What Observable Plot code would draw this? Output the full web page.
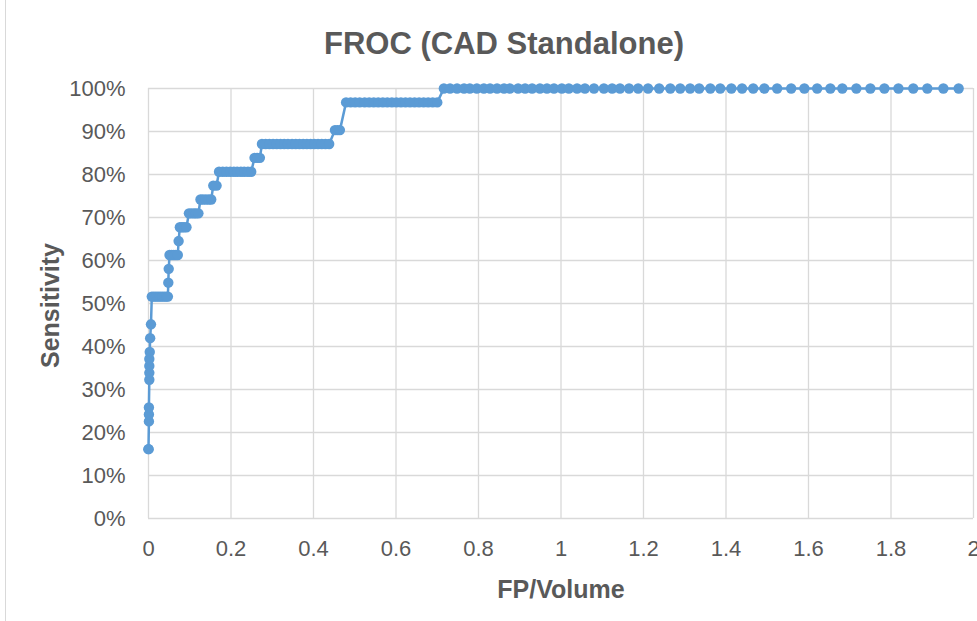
<!DOCTYPE html>
<html>
<head>
<meta charset="utf-8">
<script src="https://cdn.jsdelivr.net/npm/d3@7"></script>
<script src="https://cdn.jsdelivr.net/npm/@observablehq/plot@0.6"></script>
<style>
  html, body { margin: 0; padding: 0; background: #ffffff; }
  #chart { position: relative; width: 977px; height: 621px; overflow: hidden; }
  #chart svg { display: block; }
  #edge { position: absolute; left: 5px; top: 0; width: 1px; height: 621px; background: #d9d9d9; }
</style>
</head>
<body>
<div id="chart"><div id="edge"></div></div>
<script>
// ---- data (FROC curve, CAD standalone) ----
const chartTitle = "FROC (CAD Standalone)";
const xTitle = "FP/Volume";
const yTitle = "Sensitivity";

const xTicks = [0, 0.2, 0.4, 0.6, 0.8, 1, 1.2, 1.4, 1.6, 1.8, 2];
const yTicks = [0, 0.1, 0.2, 0.3, 0.4, 0.5, 0.6, 0.7, 0.8, 0.9, 1];

// false positives per volume (x) at each operating point
const fpPerVolume = [
  0.000, 0.000,
  0.001, 0.001, 0.001,
  0.002, 0.002, 0.002, 0.002, 0.003,
  0.004,
  0.006,
  0.008, 0.013, 0.018, 0.023, 0.028, 0.033, 0.038, 0.043, 0.047,
  0.048,
  0.049,
  0.051, 0.056, 0.061, 0.066, 0.071,
  0.073,
  0.076, 0.081, 0.086, 0.092,
  0.098, 0.104, 0.110, 0.115, 0.121,
  0.126, 0.132, 0.139, 0.146, 0.152,
  0.157, 0.165,
  0.171, 0.180, 0.189, 0.198, 0.207, 0.215, 0.224, 0.232, 0.241, 0.249,
  0.257, 0.264, 0.270,
  0.275, 0.284, 0.293, 0.302, 0.311, 0.320, 0.329, 0.338, 0.348, 0.357,
  0.366, 0.375, 0.384, 0.393, 0.402, 0.411, 0.420, 0.429, 0.438,
  0.452, 0.458, 0.464,
  0.479, 0.490, 0.501, 0.512, 0.524, 0.535, 0.546, 0.557, 0.568, 0.579,
  0.590, 0.601, 0.612, 0.623, 0.634, 0.645, 0.656, 0.667, 0.678, 0.689, 0.700,
  0.716, 0.731, 0.748, 0.765, 0.779, 0.796, 0.813, 0.828, 0.845, 0.862,
  0.876, 0.896, 0.913, 0.930, 0.949, 0.966, 0.983, 1.002, 1.019, 1.039,
  1.058, 1.080, 1.104, 1.124, 1.143, 1.165, 1.187, 1.211, 1.238, 1.265,
  1.289, 1.313, 1.335, 1.362, 1.386, 1.413, 1.439, 1.466, 1.493, 1.524,
  1.558, 1.590, 1.621, 1.653, 1.682, 1.716, 1.750, 1.784, 1.818, 1.854,
  1.888, 1.927, 1.964
];

// sensitivity (y) at each operating point, in percent
const sensitivityPct = [
  16.13, 16.13,
  22.58, 24.19, 25.81,
  32.26, 33.87, 35.48, 37.10, 38.71,
  41.94,
  45.16,
  51.61, 51.61, 51.61, 51.61, 51.61, 51.61, 51.61, 51.61, 51.61,
  54.84,
  58.06,
  61.29, 61.29, 61.29, 61.29, 61.29,
  64.52,
  67.74, 67.74, 67.74, 67.74,
  70.97, 70.97, 70.97, 70.97, 70.97,
  74.19, 74.19, 74.19, 74.19, 74.19,
  77.42, 77.42,
  80.65, 80.65, 80.65, 80.65, 80.65, 80.65, 80.65, 80.65, 80.65, 80.65,
  83.87, 83.87, 83.87,
  87.10, 87.10, 87.10, 87.10, 87.10, 87.10, 87.10, 87.10, 87.10, 87.10,
  87.10, 87.10, 87.10, 87.10, 87.10, 87.10, 87.10, 87.10, 87.10,
  90.32, 90.32, 90.32,
  96.77, 96.77, 96.77, 96.77, 96.77, 96.77, 96.77, 96.77, 96.77, 96.77,
  96.77, 96.77, 96.77, 96.77, 96.77, 96.77, 96.77, 96.77, 96.77, 96.77, 96.77,
  100, 100, 100, 100, 100, 100, 100, 100, 100, 100,
  100, 100, 100, 100, 100, 100, 100, 100, 100, 100,
  100, 100, 100, 100, 100, 100, 100, 100, 100, 100,
  100, 100, 100, 100, 100, 100, 100, 100, 100, 100,
  100, 100, 100, 100, 100, 100, 100, 100, 100, 100,
  100, 100, 100
];

// ---- build table for Plot ----
const points = fpPerVolume.map((fp, i) => ({ fp, sens: sensitivityPct[i] / 100 }));

const FONT = '"Liberation Sans Narrow", "Liberation Sans", Arial, sans-serif';
const TEXT = "#595959";
const GRID = "#d9d9d9";
const BLUE = "#5b9bd5";

const chart = Plot.plot({
  width: 977,
  height: 621,
  marginLeft: 148,
  marginRight: 4,
  marginTop: 88,
  marginBottom: 103,
  style: { fontFamily: FONT, fontSize: "22px", background: "#ffffff", overflow: "visible" },
  x: { domain: [0, 2], ticks: xTicks },
  y: { domain: [0, 1], ticks: yTicks },
  marks: [
    Plot.gridX(xTicks, { stroke: GRID, strokeOpacity: 1, strokeWidth: 1.3 }),
    Plot.gridY(yTicks, { stroke: GRID, strokeOpacity: 1, strokeWidth: 1.3 }),
    Plot.axisX(xTicks, {
      tickSize: 0, tickPadding: 22, fill: TEXT, label: null,
      tickFormat: d => String(+d.toFixed(1))
    }),
    Plot.axisY(yTicks, {
      tickSize: 0, tickPadding: 23, fill: TEXT, label: null,
      tickFormat: d3.format(".0%")
    }),
    Plot.line(points, { x: "fp", y: "sens", stroke: BLUE, strokeWidth: 2.5 }),
    Plot.dot(points, { x: "fp", y: "sens", r: 5.2, fill: BLUE, stroke: null }),
    Plot.text([chartTitle], {
      frameAnchor: "top", dx: -57, dy: -44, fontSize: 31, fontWeight: "bold",
      fill: TEXT, textAnchor: "middle", lineAnchor: "middle"
    }),
    Plot.text([xTitle], {
      frameAnchor: "bottom", dy: 71, fontSize: 25, fontWeight: "bold",
      fill: TEXT, textAnchor: "middle", lineAnchor: "middle"
    }),
    Plot.text([yTitle], {
      frameAnchor: "left", dx: -98, dy: 2, rotate: -90, fontSize: 25, fontWeight: "bold",
      fill: TEXT, textAnchor: "middle", lineAnchor: "middle"
    })
  ]
});

document.getElementById("chart").appendChild(chart);
</script>
</body>
</html>
